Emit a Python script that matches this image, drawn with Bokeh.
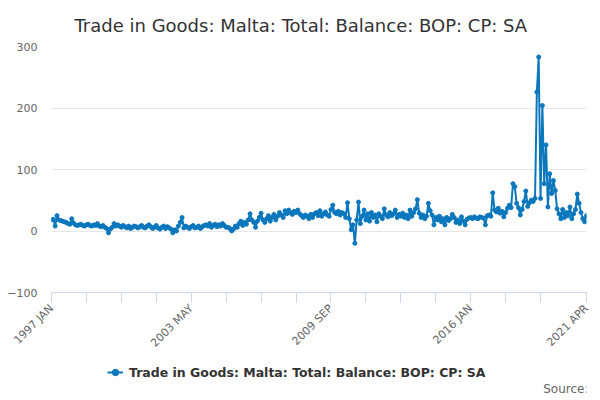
from bokeh.plotting import figure
from bokeh.models import Range1d, FixedTicker, Legend, LegendItem, Label
from bokeh.layouts import column
from bokeh.embed import file_html
from bokeh.resources import INLINE
import math

title_text = "Trade in Goods: Malta: Total: Balance: BOP: CP: SA"
series_name = "Trade in Goods: Malta: Total: Balance: BOP: CP: SA"
source_text = "Source:"

values_1997 = [18, 19, 8, 25, 18, 17, 16, 15, 14, 12, 11, 20]
values_1998 = [13, 10, 9, 10, 11, 9, 8, 10, 11, 9, 8, 10]
values_1999 = [9, 12, 8, 7, 9, 6, 4, -3, 3, 6, 12, 8]
values_2000 = [10, 8, 6, 9, 7, 5, 8, 4, 6, 8, 7, 5]
values_2001 = [7, 9, 6, 5, 8, 10, 7, 4, 6, 9, 5, 3]
values_2002 = [6, 8, 4, 7, 5, 3, -3, 2, 0, 8, 14, 22]
values_2003 = [5, 8, 6, 4, 7, 9, 5, 6, 8, 4, 7, 9]
values_2004 = [10, 8, 12, 6, 9, 11, 7, 10, 8, 12, 9, 6]
values_2005 = [6, 4, 0, 3, 8, 6, 12, 16, 9, 14, 11, 18]
values_2006 = [28, 18, 14, 6, 16, 22, 29, 18, 14, 20, 25, 16]
values_2007 = [22, 27, 18, 24, 30, 26, 22, 33, 28, 34, 30, 27]
values_2008 = [32, 30, 34, 28, 25, 22, 26, 24, 20, 27, 22, 28]
values_2009 = [30, 25, 33, 24, 28, 31, 26, 24, 35, 42, 30, 28]
values_2010 = [32, 26, 30, 28, 22, 46, 20, 2, 10, -20, 18, 47]
values_2011 = [12, 24, 34, 18, 28, 16, 30, 22, 26, 15, 28, 24]
values_2012 = [20, 36, 26, 23, 30, 25, 28, 34, 22, 27, 24, 29]
values_2013 = [22, 26, 20, 34, 24, 30, 36, 51, 29, 22, 26, 20]
values_2014 = [24, 45, 33, 26, 10, 22, 18, 24, 15, 20, 10, 22]
values_2015 = [17, 20, 27, 22, 14, 18, 12, 23, 16, 10, 19, 21]
values_2016 = [22, 20, 23, 21, 20, 23, 22, 21, 10, 25, 26, 24]
values_2017 = [62, 34, 31, 37, 29, 32, 23, 30, 37, 42, 38, 77]
values_2018 = [72, 45, 38, 26, 35, 48, 65, 40, 46, 50, 48, 53]
values_2019 = [226, 283, 53, 204, 77, 140, 39, 93, 61, 82, 66, 36]
values_2020 = [28, 20, 35, 22, 30, 25, 39, 20, 28, 35, 60, 45]
values_2021 = [30, 20, 15, 25]

yearly = [values_1997, values_1998, values_1999, values_2000, values_2001,
          values_2002, values_2003, values_2004, values_2005, values_2006,
          values_2007, values_2008, values_2009, values_2010, values_2011,
          values_2012, values_2013, values_2014, values_2015, values_2016,
          values_2017, values_2018, values_2019, values_2020, values_2021]

values = [v for year in yearly for v in year]
idx = list(range(len(values)))

tick_positions = [0, 19, 38, 57, 76, 95, 114, 133, 152, 171, 190, 209, 228, 247, 266, 291]
tick_labels = {0: "1997 JAN", 76: "2003 MAY", 152: "2009 SEP", 228: "2016 JAN", 291: "2021 APR"}
y_ticks = [-100, 0, 100, 200, 300]

color = "#0a77bd"
W = 594

p = figure(width=W, height=357, output_backend="svg", toolbar_location=None,
           x_range=Range1d(0, len(values) - 1), y_range=Range1d(-100, 300),
           min_border_left=51, min_border_right=8, min_border_top=46, min_border_bottom=64)
p.outline_line_color = None
p.background_fill_color = "white"
p.border_fill_color = "white"

p.title.text = title_text
p.title.align = "left"
p.title.offset = 23
p.title.text_font = "DejaVu Sans"
p.title.text_font_size = "18px"
p.title.text_font_style = "normal"
p.title.text_color = "#333333"
p.title.standoff = 22

r_line = p.line(idx, values, line_color=color, line_width=2)
r_pts = p.scatter(idx, values, size=4, fill_color=color, line_color=color)

p.xgrid.visible = False
p.ygrid.grid_line_color = "#e6e6e6"
p.ygrid.ticker = FixedTicker(ticks=y_ticks)

p.yaxis.ticker = FixedTicker(ticks=y_ticks)
p.yaxis.axis_line_color = None
p.yaxis.major_tick_line_color = None
p.yaxis.minor_tick_line_color = None
p.yaxis.major_tick_out = 0
p.yaxis.major_label_standoff = 14
p.yaxis.major_label_text_font = "DejaVu Sans"
p.yaxis.major_label_text_font_size = "11px"
p.yaxis.major_label_text_color = "#666666"

p.xaxis.ticker = FixedTicker(ticks=tick_positions)
p.xaxis.major_label_overrides = {t: tick_labels.get(t, "") for t in tick_positions}
p.xaxis.axis_line_color = "#ccd6eb"
p.xaxis.major_tick_line_color = "#ccd6eb"
p.xaxis.minor_tick_line_color = None
p.xaxis.major_tick_out = 10
p.xaxis.major_tick_in = 0
p.xaxis.major_label_orientation = math.pi / 4
p.xaxis.major_label_standoff = 4
p.xaxis.major_label_text_font = "DejaVu Sans"
p.xaxis.major_label_text_font_size = "11px"
p.xaxis.major_label_text_color = "#666666"

# footer strip: legend and source line (frame is aligned with the main plot's frame)
p2 = figure(width=W, height=41, output_backend="svg", toolbar_location=None,
            x_range=Range1d(0, 1), y_range=Range1d(0, 1),
            x_axis_type=None, y_axis_type=None,
            min_border_left=0, min_border_right=0, min_border_top=0, min_border_bottom=0)
p2.outline_line_color = None
p2.grid.visible = False
p2.border_fill_color = "white"
p2.background_fill_color = "white"

k_line = p2.line([-10, -9], [-10, -10], line_color=color, line_width=2)
k_pts = p2.scatter([-10], [-10], size=4, fill_color=color, line_color=color)

legend = Legend(items=[LegendItem(label=series_name, renderers=[k_line, k_pts])],
                orientation="horizontal", location=(56, 16))
legend.label_text_font = "DejaVu Sans"
legend.label_text_font_size = "12.5px"
legend.label_text_font_style = "bold"
legend.label_text_color = "#333333"
legend.border_line_color = None
legend.background_fill_alpha = 0
legend.glyph_width = 16
legend.label_standoff = 6
legend.padding = 4
legend.margin = 0
p2.add_layout(legend)

src = Label(x=537, y=10, x_units="screen", y_units="screen", text=source_text,
            text_align="right", text_baseline="middle", text_font_size="12px",
            text_color="#666666", text_font="DejaVu Sans")
p2.add_layout(src)

layout = column(p, p2, spacing=0)
open("out.html", "w").write(file_html(layout, INLINE))
